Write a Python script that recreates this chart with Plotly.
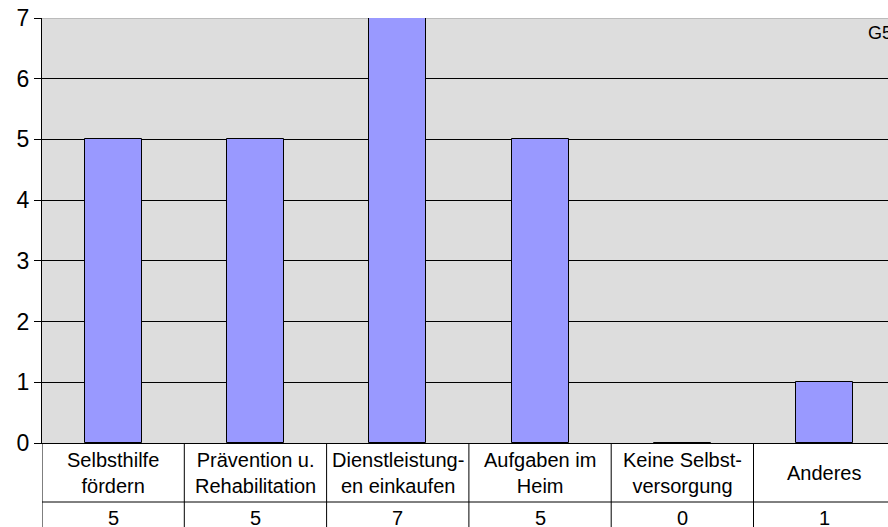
import plotly.graph_objects as go

categories = ["Selbsthilfe<br>fördern", "Prävention u.<br>Rehabilitation", "Dienstleistung-<br>en einkaufen",
              "Aufgaben im<br>Heim", "Keine Selbst-<br>versorgung", "Anderes"]
values = [5, 5, 7, 5, 0, 1]
y_ticks = [0, 1, 2, 3, 4, 5, 6, 7]
chart_tag = "G5"

W, H = 888, 527
ML, MR, MT, MB = 42, 0, 18, 84
plot_h = H - MT - MB
plot_w = W - ML - MR
cat_px = 142.3
x_range = [-0.5, -0.5 + plot_w / cat_px]

FONT = "Liberation Sans, Arial, sans-serif"
xs = list(range(len(categories)))

fig = go.Figure()
fig.add_trace(go.Bar(
    x=xs, y=values, width=0.4,
    marker=dict(color="#9999FF", line=dict(color="black", width=1)),
    hoverinfo="skip",
))

def py(px_below):
    return -px_below / plot_h

shapes = []
row_line = py(59)
bottom = py(MB + 5)
for i in range(len(categories) + 1):
    shapes.append(dict(type="line", xref="x", yref="paper", x0=i - 0.5, x1=i - 0.5,
                       y0=0, y1=bottom, line=dict(color="black", width=1)))
shapes.append(dict(type="line", xref="x", yref="paper", x0=-0.5, x1=len(categories) - 0.5,
                   y0=row_line, y1=row_line, line=dict(color="black", width=1)))
shapes.append(dict(type="line", xref="paper", yref="y", x0=0, x1=1, y0=7, y1=7,
                   line=dict(color="#9a9a9a", width=1), layer="between"))

annotations = []
for i, (c, v) in enumerate(zip(categories, values)):
    annotations.append(dict(x=i, xref="x", y=py(30), yref="paper", text=c, showarrow=False,
                            font=dict(size=20, color="black", family=FONT),
                            xanchor="center", yanchor="middle"))
    annotations.append(dict(x=i, xref="x", y=py(75), yref="paper", text=str(v), showarrow=False,
                            font=dict(size=20, color="black", family=FONT),
                            xanchor="center", yanchor="middle"))
annotations.append(dict(x=(866 - ML) / plot_w, xref="paper", y=1 - (33 - MT) / plot_h,
                        yref="paper", text=chart_tag, showarrow=False,
                        font=dict(size=18, color="black", family=FONT),
                        xanchor="left", yanchor="middle"))

fig.update_layout(
    width=W, height=H,
    margin=dict(l=ML, r=MR, t=MT, b=MB, pad=0),
    paper_bgcolor="white", plot_bgcolor="#DDDDDD",
    showlegend=False, bargap=0,
    font=dict(family=FONT, color="black"),
    shapes=shapes, annotations=annotations,
    xaxis=dict(range=x_range, showgrid=False, zeroline=False, showticklabels=False,
               ticks="", showline=True, linecolor="black", linewidth=1, fixedrange=True),
    yaxis=dict(range=[0, 7], tickvals=y_ticks, ticks="outside", ticklen=7, tickcolor="black",
               tickwidth=1, showline=True, linecolor="black", linewidth=1,
               showgrid=True, gridcolor="black", gridwidth=1, zeroline=False,
               tickfont=dict(size=23, color="black", family=FONT), fixedrange=True),
)

fig.write_html("out.html", config={"displayModeBar": False},
               post_script="document.body.style.margin='0';document.body.style.overflow='hidden';")
